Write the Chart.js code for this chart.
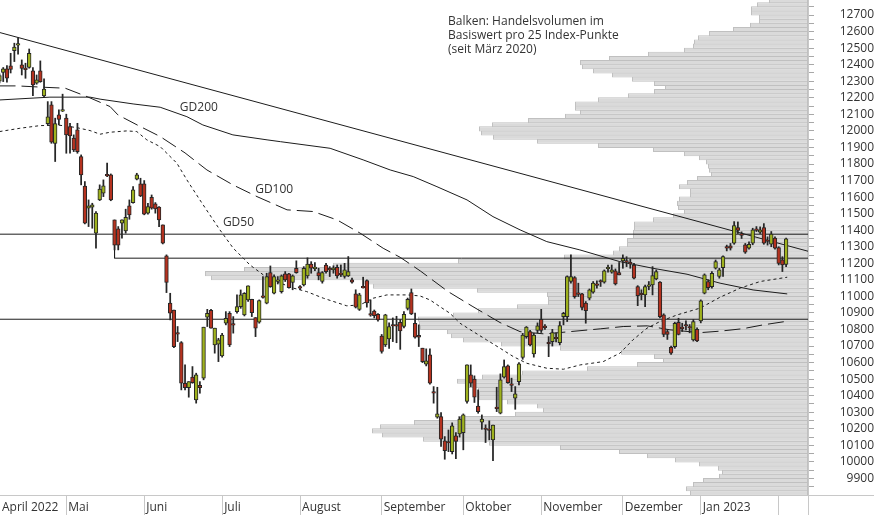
<!DOCTYPE html>
<html>
<head>
<meta charset="utf-8">
<script src="https://cdn.jsdelivr.net/npm/chart.js@4.4.0/dist/chart.umd.min.js"></script>
<style>
  html, body { margin: 0; padding: 0; background: #fff; }
  #wrap { width: 874px; height: 515px; }
</style>
</head>
<body>
<div id="wrap"><canvas id="smiChart" width="874" height="515"></canvas></div>
<script>
// daily candles, trading day index 1 = 4 April 2022
const firstDay = 1;
const openV = [
  12300, 12354, 12375, 12393, 12485, 12518, 12399, 12377, 12383, 12363,
  12288, 12363, 12212, 12044, 12157, 11925, 12097, 12120, 12077, 12026,
  11956, 12006, 11845, 11667, 11533, 11539, 11382, 11583, 11624, 11734,
  11734, 11462, 11408, 11442, 11396, 11547, 11567, 11708, 11680, 11680,
  11503, 11599, 11559, 11539, 11432, 11245, 10959, 10918, 10778, 10721,
  10475, 10449, 10512, 10375, 10463, 10506, 10874, 10916, 10707, 10711,
  10641, 10838, 10898, 10832, 10908, 10938, 10888, 10979, 10983, 10872,
  10844, 11000, 10959, 11144, 11019, 11090, 11029, 11136, 11136, 11084,
  11170, 11055, 11069, 11124, 11196, 11168, 11144, 11090, 11190, 11166,
  11160, 11176, 11138, 11120, 11124, 11100, 11015, 10922, 11058, 11096,
  10893, 10912, 10892, 10761, 10707, 10743, 10827, 10830, 10844, 10818,
  10928, 11023, 10838, 10765, 10687, 10590, 10647, 10422, 10270, 10274,
  10127, 10120, 10062, 10157, 10169, 10177, 10365, 10526, 10500, 10338,
  10240, 10202, 10196, 10133, 10328, 10294, 10512, 10580, 10468, 10385,
  10485, 10632, 10757, 10788, 10653, 10794, 10862, 10817, 10720, 10727,
  10750, 10721, 10878, 10878, 11090, 11114, 11018, 11015, 10959, 10989,
  11025, 11073, 11093, 11086, 11167, 11146, 11154, 11144, 11214, 11213,
  11203, 11190, 11059, 11016, 11009, 11060, 11069, 11106, 11086, 10888,
  10787, 10693, 10697, 10844, 10811, 10827, 10815, 10737, 10801, 10852,
  11019, 11090, 11059, 11170, 11120, 11174, 11301, 11305, 11321, 11416,
  11375, 11311, 11291, 11321, 11405, 11388, 11416, 11338, 11315, 11352,
  11295, 11221, 11194
];
const highV = [
  12345, 12383, 12395, 12469, 12530, 12564, 12429, 12409, 12495, 12383,
  12338, 12423, 12314, 12177, 12177, 12077, 12127, 12222, 12101, 12046,
  11976, 12046, 11855, 11694, 11583, 11563, 11513, 11674, 11704, 11805,
  11740, 11462, 11422, 11462, 11527, 11583, 11664, 11744, 11714, 11700,
  11563, 11613, 11567, 11543, 11432, 11251, 11019, 10918, 10818, 10727,
  10586, 10485, 10576, 10536, 10485, 10814, 10922, 10922, 10808, 10747,
  10777, 10908, 10908, 10878, 11009, 11039, 11023, 11064, 10983, 10872,
  10979, 11120, 11140, 11184, 11130, 11120, 11130, 11150, 11140, 11130,
  11215, 11065, 11180, 11233, 11210, 11205, 11170, 11150, 11200, 11180,
  11185, 11190, 11190, 11200, 11241, 11110, 11040, 11019, 11116, 11100,
  10979, 10918, 10896, 10770, 10892, 10840, 10870, 10880, 10860, 10908,
  10990, 11045, 10899, 10828, 10687, 10683, 10683, 10455, 10451, 10298,
  10153, 10193, 10236, 10177, 10272, 10290, 10586, 10586, 10520, 10435,
  10284, 10224, 10248, 10222, 10451, 10532, 10616, 10586, 10506, 10455,
  10600, 10777, 10818, 10795, 10777, 10840, 10922, 10830, 10757, 10801,
  10780, 10848, 10904, 11124, 11251, 11120, 11080, 11019, 10969, 11045,
  11090, 11094, 11100, 11160, 11190, 11190, 11166, 11205, 11251, 11240,
  11225, 11200, 11065, 11040, 11069, 11090, 11180, 11160, 11090, 10895,
  10800, 10700, 10844, 10868, 10838, 10852, 10830, 10860, 10810, 10979,
  11136, 11100, 11150, 11220, 11170, 11245, 11310, 11320, 11452, 11450,
  11390, 11320, 11330, 11412, 11422, 11420, 11440, 11360, 11392, 11360,
  11300, 11240, 11352
];
const lowV = [
  12290, 12298, 12294, 12350, 12419, 12463, 12338, 12318, 12379, 12213,
  12282, 12294, 12207, 12036, 11925, 11815, 12036, 12117, 11865, 11865,
  11875, 11865, 11674, 11438, 11422, 11412, 11291, 11579, 11603, 11724,
  11578, 11281, 11281, 11352, 11382, 11466, 11563, 11704, 11603, 11493,
  11497, 11527, 11503, 11422, 11317, 11023, 10858, 10690, 10727, 10435,
  10435, 10391, 10475, 10355, 10415, 10496, 10818, 10808, 10657, 10606,
  10633, 10828, 10697, 10778, 10898, 10928, 10882, 10969, 10878, 10757,
  10838, 10990, 10955, 11055, 11015, 11075, 11020, 11090, 11050, 11040,
  11140, 11040, 11063, 11110, 11140, 11155, 11100, 11080, 11140, 11120,
  11140, 11110, 11120, 11110, 11120, 11080, 10930, 10915, 11050, 10935,
  10880, 10870, 10850, 10657, 10697, 10685, 10727, 10720, 10680, 10810,
  10918, 10890, 10747, 10697, 10600, 10580, 10470, 10355, 10264, 10093,
  10016, 10062, 10048, 10020, 10150, 10073, 10355, 10455, 10359, 10294,
  10197, 10117, 10133, 10008, 10304, 10290, 10506, 10475, 10425, 10318,
  10465, 10620, 10747, 10701, 10633, 10780, 10782, 10800, 10636, 10700,
  10725, 10707, 10828, 10848, 11080, 10989, 10999, 10918, 10838, 10979,
  11019, 11050, 11060, 11080, 11146, 11140, 11069, 11130, 11170, 11180,
  11170, 11106, 10944, 10979, 10938, 11040, 11009, 11100, 10870, 10757,
  10740, 10650, 10687, 10767, 10788, 10797, 10780, 10730, 10727, 10840,
  11015, 11040, 11050, 11165, 11110, 11120, 11275, 11280, 11315, 11380,
  11350, 11260, 11285, 11312, 11392, 11380, 11315, 11310, 11300, 11285,
  11190, 11150, 11180
];
const closeV = [
  12335, 12375, 12318, 12371, 12506, 12524, 12377, 12370, 12469, 12278,
  12308, 12298, 12252, 12085, 11932, 12044, 12070, 12126, 11976, 11970,
  11885, 11875, 11734, 11442, 11547, 11553, 11503, 11648, 11668, 11728,
  11583, 11309, 11309, 11462, 11478, 11492, 11644, 11734, 11607, 11497,
  11543, 11533, 11529, 11462, 11321, 11084, 10898, 10697, 10772, 10475,
  10449, 10485, 10479, 10526, 10449, 10814, 10898, 10808, 10808, 10737,
  10767, 10868, 10707, 10826, 10938, 11009, 11019, 11064, 10902, 10808,
  10975, 10994, 11120, 11059, 11120, 11100, 11124, 11100, 11053, 11124,
  11144, 11050, 11170, 11196, 11170, 11174, 11124, 11144, 11150, 11160,
  11172, 11124, 11132, 11160, 11150, 11086, 10935, 11009, 11052, 10960,
  10887, 10884, 10858, 10667, 10888, 10818, 10821, 10820, 10792, 10892,
  10983, 10894, 10753, 10753, 10606, 10610, 10475, 10416, 10290, 10137,
  10068, 10114, 10218, 10123, 10258, 10284, 10586, 10475, 10391, 10304,
  10258, 10196, 10190, 10222, 10322, 10496, 10576, 10479, 10462, 10411,
  10592, 10767, 10814, 10707, 10767, 10822, 10794, 10811, 10714, 10781,
  10744, 10824, 10898, 11120, 11120, 10999, 11012, 10933, 10914, 11039,
  11080, 11067, 11087, 11154, 11173, 11160, 11076, 11130, 11230, 11207,
  11197, 11110, 11005, 11010, 11059, 11070, 11126, 11150, 10878, 10771,
  10771, 10657, 10838, 10771, 10805, 10821, 10809, 10848, 10731, 10973,
  11130, 11053, 11140, 11211, 11160, 11241, 11291, 11291, 11428, 11398,
  11369, 11267, 11315, 11402, 11399, 11402, 11321, 11332, 11376, 11291,
  11200, 11190, 11348
];

// first trading day of each month and the axis labels
const monthStart = [0, 19, 40, 61, 82, 104, 126, 147, 169, 190, 211];
const monthLabel = ['April 2022', 'Mai', 'Juni', 'Juli', 'August', 'September',
  'Oktober', 'November', 'Dezember', 'Jan 2023', ''];

// volume profile: traded volume per 25 index points, from 9800 upwards
const volFrom = 9800;
const volStep = 25;
const volume = [
  118, 122, 115, 105, 89, 86, 90, 109, 133, 161, 189, 248,
  319, 385, 426, 436, 428, 394, 350, 293, 265, 271, 301, 329,
  329, 330, 340, 351, 326, 286, 221, 171, 145, 154, 187, 248,
  307, 345, 357, 361, 388, 389, 390, 355, 330, 291, 260, 260,
  261, 331, 435, 445, 597, 603, 564, 475, 350, 244, 195, 189,
  181, 181, 175, 175, 174, 174, 155, 135, 124, 130, 131, 129,
  118, 118, 129, 121, 111, 97, 99, 100, 102, 109, 124, 155,
  210, 271, 315, 327, 329, 316, 280, 243, 228, 233, 233, 210,
  180, 154, 143, 154, 176, 196, 215, 226, 228, 199, 160, 124,
  115, 114, 110, 99, 75, 58, 49, 49, 57, 57, 51, 39
];

// moving averages: [day index, level]
const gd200 = [[1,12187],[14.6,12204],[25.4,12204],[28.1,12192],[37,12163],[44.3,12143],
  [51.5,12086],[55.8,12036],[63.9,11976],[73.1,11946],[76.7,11935],[90.1,11895],[99,11825],
  [106.3,11764],[112.5,11724],[118.9,11663],[127,11583],[134,11482],[141.3,11402],
  [148.5,11331],[157.4,11281],[168.2,11210],[177.1,11170],[186.3,11134],[195.2,11080],
  [204.1,11039],[213.3,11015]];
const gd100 = [[1,12272],[5.7,12272],[12.7,12264],[18.7,12258],[24.6,12207],[30.8,12147],
  [32.9,12097],[38.1,12036],[44.3,11966],[51,11867],[56.9,11764],[63.9,11674],[70.4,11603],
  [78.5,11523],[85.5,11513],[92,11462],[98.2,11382],[104.4,11291],[109,11236],[114.4,11154],
  [121.9,11029],[128.6,10938],[135.9,10842],[141.3,10787],[148,10773],[156.1,10790],
  [162.9,10804],[169.1,10818],[175.6,10822],[181.7,10798],[189.8,10781],[195.2,10790],
  [201.4,10805],[206.8,10828],[213.3,10850]];
const gd50 = [[1,11996],[6.5,12016],[11.9,12032],[17.3,12034],[21.8,12020],[25.4,12002],
  [28.1,11980],[30.8,11992],[35.3,12000],[38,11996],[40.7,11946],[44.3,11905],[46.1,11865],
  [48.8,11805],[51.5,11704],[55,11583],[57.7,11492],[60.4,11402],[64,11291],[66.7,11231],
  [68.5,11190],[72.1,11130],[75.7,11089],[80.2,11050],[83.8,11029],[88.3,10989],[94.6,10943],
  [98.2,10949],[101.7,10989],[105.4,11009],[110.8,11009],[114.3,11003],[117,10979],
  [119.7,10938],[122.4,10898],[125.1,10838],[128.7,10787],[132.3,10737],[135.9,10687],
  [139.5,10636],[143.1,10596],[148.5,10566],[153,10560],[157.5,10586],[163.7,10606],
  [168.2,10657],[171.7,10737],[175.5,10808],[179,10848],[183.6,10888],[189.8,10929],
  [195.2,10995],[200.6,11050],[206,11090],[213.3,11116]];

// visible range
const xMin = 1.13, xMax = 218.9;
const yMin = 9800, yMax = 12791;

// drawn lines
const trendLine = [[xMin, 12594], [xMax, 11273]];
const resistance = 11376;
const support = 10862;
const bracket = [[32, 11300], [32, 11231], [xMax, 11231]];

const yTicks = [];
for (let v = 9850; v <= 12750; v += 50) yTicks.push(v);

const days = openV.map((_, k) => firstDay + k);
const upColor = '#9fb21e';
const downColor = '#b5321f';
const ink = '#262626';
const font = "'Open Sans', sans-serif";

const pts = arr => arr.map(p => ({x: p[0], y: p[1]}));

function lineSet(data, dash) {
  return {
    type: 'line', data: pts(data), xAxisID: 'x', yAxisID: 'y',
    borderColor: '#1c1c1c', borderWidth: 1, borderDash: dash || [],
    pointRadius: 0, tension: 0, fill: false, order: 2
  };
}

const tags = [
  {text: 'GD200', day: 49.6, level: 12139},
  {text: 'GD100', day: 69.9, level: 11643},
  {text: 'GD50', day: 61.2, level: 11444}
];
const note = ['Balken: Handelsvolumen im', 'Basiswert pro 25 Index-Punkte', '(seit März 2020)'];

const textPlugin = {
  id: 'texts',
  afterDatasetsDraw(chart) {
    const {ctx, scales} = chart;
    ctx.save();
    ctx.font = '12px ' + font;
    ctx.fillStyle = '#333';
    ctx.textAlign = 'left';
    ctx.textBaseline = 'middle';
    tags.forEach(t => {
      ctx.fillText(t.text, scales.x.getPixelForValue(t.day), scales.y.getPixelForValue(t.level));
    });
    note.forEach((s, k) => ctx.fillText(s, 448, 21.5 + k * 14));
    ctx.restore();
  }
};

const framePlugin = {
  id: 'frame',
  afterDraw(chart) {
    const {ctx, chartArea: a} = chart;
    ctx.save();
    ctx.strokeStyle = '#c8c8c8';
    ctx.lineWidth = 1;
    ctx.beginPath();
    ctx.moveTo(Math.round(a.right) + 0.5, 0);
    ctx.lineTo(Math.round(a.right) + 0.5, chart.height);
    ctx.moveTo(0, Math.round(a.bottom) + 0.5);
    ctx.lineTo(chart.width, Math.round(a.bottom) + 0.5);
    ctx.stroke();
    ctx.restore();
  }
};

Chart.defaults.font.family = font;
Chart.defaults.font.size = 12;
Chart.defaults.color = '#333';

new Chart(document.getElementById('smiChart'), {
  type: 'bar',
  data: {
    datasets: [
      {
        label: 'Volumen',
        indexAxis: 'y',
        xAxisID: 'xv', yAxisID: 'yv',
        data: volume.map((v, k) => ({y: volFrom + k * volStep + volStep / 2, x: v})),
        backgroundColor: '#dadada',
        borderColor: '#c0c0c0',
        borderWidth: 1,
        borderSkipped: false,
        barPercentage: 1.24,
        categoryPercentage: 1,
        grouped: false,
        order: 5
      },
      lineSet(gd200),
      lineSet(gd100, [16, 6]),
      lineSet(gd50, [3, 3]),
      lineSet(trendLine),
      lineSet([[xMin, resistance], [xMax, resistance]]),
      lineSet([[xMin, support], [xMax, support]]),
      lineSet(bracket),
      {
        label: 'Docht',
        xAxisID: 'x', yAxisID: 'y',
        data: days.map((d, k) => ({x: d, y: [lowV[k], highV[k]]})),
        backgroundColor: ink,
        borderWidth: 0,
        barThickness: 1.1,
        grouped: false,
        order: 1
      },
      {
        label: 'Kerze',
        xAxisID: 'x', yAxisID: 'y',
        data: days.map((d, k) => ({x: d, y: [openV[k], closeV[k]]})),
        backgroundColor: c => closeV[c.dataIndex] >= openV[c.dataIndex] ? upColor : downColor,
        borderColor: ink,
        borderWidth: 1,
        borderSkipped: false,
        barPercentage: 1,
        categoryPercentage: 1,
        minBarLength: 1.5,
        grouped: false,
        order: 0
      }
    ]
  },
  options: {
    responsive: false,
    devicePixelRatio: 1,
    animation: false,
    layout: {padding: 0},
    plugins: {legend: {display: false}, tooltip: {enabled: false}},
    scales: {
      x: {
        type: 'linear', axis: 'x', position: 'bottom',
        min: xMin, max: xMax, offset: false,
        grid: {
          offset: false, drawOnChartArea: false, drawTicks: true, tickLength: 20,
          color: c => c.index === 0 ? 'rgba(0,0,0,0)' : '#c8c8c8'
        },
        border: {display: false},
        afterBuildTicks: s => { s.ticks = monthStart.map(d => ({value: Math.max(d, xMin)})); },
        afterFit: s => { s.height = 20; s.paddingLeft = 0; s.paddingRight = 0; s.paddingTop = 0; s.paddingBottom = 0; },
        ticks: {
          autoSkip: false, maxRotation: 0, minRotation: 0,
          align: 'start', labelOffset: 2, padding: -15,
          color: '#333', font: {size: 12},
          callback: (v, i) => monthLabel[i]
        }
      },
      y: {
        type: 'linear', axis: 'y', position: 'right',
        min: yMin, max: yMax,
        grid: {drawOnChartArea: false, drawTicks: true, tickLength: 6, color: '#a8a8a8'},
        border: {display: false},
        afterBuildTicks: s => { s.ticks = yTicks.map(v => ({value: v})); },
        afterFit: s => { s.width = 66; s.paddingLeft = 0; s.paddingRight = 0; s.paddingTop = 0; s.paddingBottom = 0; },
        ticks: {
          autoSkip: false, crossAlign: 'far', padding: 3,
          color: '#333', font: {size: 12},
          callback: v => (v % 100 === 0 ? String(v) : '')
        }
      },
      xv: {
        type: 'linear', axis: 'x', position: 'bottom', display: false,
        min: 0, max: 808, reverse: true, offset: false, grid: {offset: false}
      },
      yv: {
        type: 'linear', axis: 'y', position: 'right', display: false,
        min: yMin, max: yMax, offset: false, grid: {offset: false}
      }
    }
  },
  plugins: [textPlugin, framePlugin]
});
</script>
</body>
</html>
